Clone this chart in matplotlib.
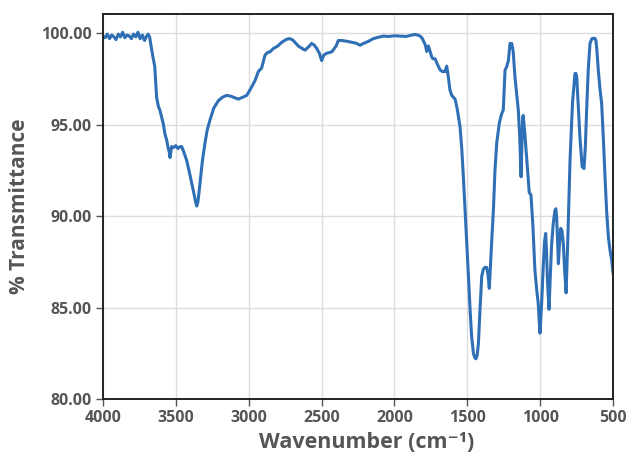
import matplotlib.pyplot as plt

# IR spectrum, values
wavenumber = [
    4000, 3985, 3970, 3955, 3940, 3925, 3910, 3895, 3880, 3865, 3850, 3835,
    3820, 3805, 3790, 3775, 3760, 3745, 3730, 3715, 3700, 3690, 3680,
    3670, 3657, 3645, 3632, 3620, 3610, 3597, 3585, 3575, 3563, 3552, 3545,
    3540, 3533, 3529, 3515, 3500, 3485, 3470, 3460, 3445, 3426, 3410, 3391,
    3375, 3365, 3357, 3348, 3334, 3318, 3300, 3285, 3266, 3240, 3209, 3180,
    3151, 3120, 3090, 3071, 3040, 3014, 2991, 2957, 2934, 2911, 2888, 2870,
    2854, 2831, 2800, 2774, 2750, 2728, 2710, 2694, 2660, 2630, 2614, 2590,
    2568, 2550, 2533, 2515, 2499, 2485, 2465, 2430, 2400, 2385, 2360, 2328,
    2290, 2259, 2236, 2213, 2180, 2145, 2110, 2076, 2040, 2000, 1962, 1920,
    1890, 1859, 1840, 1824, 1812, 1802, 1790, 1778, 1767, 1755, 1744, 1735,
    1721, 1705, 1687, 1670, 1653, 1641, 1630, 1619, 1607, 1595, 1584, 1570,
    1550, 1538, 1527, 1515, 1504, 1492, 1481, 1470, 1458, 1448, 1440, 1432,
    1424, 1412, 1401, 1390, 1378, 1367, 1358, 1349, 1340, 1330, 1321, 1310,
    1298, 1280, 1264, 1253, 1241, 1230, 1218, 1207, 1195, 1185, 1173, 1160,
    1150, 1140, 1131, 1125, 1120, 1116, 1105, 1093, 1075, 1063, 1050, 1036,
    1024, 1013, 1006, 1001, 990, 978, 970, 962, 956, 951, 945, 939, 930, 921,
    910, 898, 892, 887, 881, 875, 867, 859, 850, 841, 832, 822, 810, 795,
    778, 761, 755, 749, 738, 727, 712, 699, 690, 681, 670, 658, 645, 635,
    625, 617, 610, 601, 590, 578, 566, 555, 544, 532, 520, 509, 500,
]
transmittance = [
    99.85, 99.75, 99.95, 99.70, 99.90, 99.80, 99.65, 99.95, 99.80, 100.05,
    99.75, 99.90, 99.85, 99.70, 99.95, 99.80, 100.05, 99.70, 99.90, 99.60,
    99.85, 99.95, 99.80,
    99.30, 98.70, 98.20, 96.50, 96.00, 95.80, 95.40, 95.00, 94.50, 94.15,
    93.70, 93.50, 93.20, 93.60, 93.80, 93.75, 93.85, 93.70, 93.80, 93.80,
    93.50, 93.05, 92.50, 91.80, 91.20, 90.80, 90.55, 90.80, 91.80, 93.00,
    94.00, 94.70, 95.25, 95.90, 96.30, 96.50, 96.60, 96.55, 96.45, 96.40,
    96.50, 96.60, 96.90, 97.40, 97.90, 98.10, 98.80, 98.95, 98.98, 99.16,
    99.30, 99.50, 99.62, 99.70, 99.68, 99.60, 99.30, 99.15, 99.07, 99.25,
    99.44, 99.35, 99.16, 98.90, 98.50, 98.80, 98.90, 98.98, 99.30, 99.60,
    99.60, 99.56, 99.50, 99.44, 99.34, 99.44, 99.55, 99.70, 99.78, 99.84,
    99.82, 99.86, 99.84, 99.82, 99.88, 99.93, 99.90, 99.84, 99.75, 99.60,
    99.40, 99.00, 99.30, 99.00, 98.70, 98.60, 98.60, 98.30, 98.00, 97.90,
    97.90, 98.20, 97.60, 96.90, 96.60, 96.50, 96.40, 95.90, 94.90, 93.70,
    92.15, 90.30, 88.50, 86.70, 84.90, 83.40, 82.50, 82.25, 82.20, 82.40,
    83.00, 85.00, 86.70, 87.10, 87.20, 87.20, 86.80, 86.05, 87.50, 89.00,
    90.30, 92.50, 94.00, 95.10, 95.60, 95.80, 97.98, 98.16, 98.50, 99.44,
    99.44, 99.00, 97.60, 96.60, 95.80, 94.30, 92.15, 94.00, 95.40, 95.50,
    94.50, 93.20, 91.30, 91.15, 89.50, 87.05, 86.00, 85.20, 84.20, 83.60,
    85.20, 87.40, 88.60, 89.05, 88.00, 86.70, 85.70, 84.90, 86.80, 88.50,
    89.60, 90.33, 90.40, 89.96, 88.80, 87.40, 88.50, 89.33, 89.20, 88.50,
    87.00, 85.80, 88.80, 93.06, 96.20, 97.80, 97.80, 97.60, 96.00, 94.30,
    92.70, 92.60, 93.80, 95.80, 98.00, 99.44, 99.70, 99.72, 99.72, 99.60,
    99.00, 97.98, 97.00, 96.16, 94.20, 92.15, 90.30, 88.87, 88.10, 87.60,
    86.90,
]

x_ticks = [4000, 3500, 3000, 2500, 2000, 1500, 1000, 500]
y_ticks = [80, 85, 90, 95, 100]

plt.rcParams['font.family'] = ['Open Sans', 'DejaVu Sans']

fig = plt.figure(figsize=(6.31, 4.57), dpi=100)
ax = fig.add_axes([0.1632, 0.1269, 0.8083, 0.8425])

ax.plot(wavenumber, transmittance, color='#2f6fb6', linewidth=2.2)

ax.set_xlim(4000, 500)
ax.set_ylim(80, 101.05)
ax.set_xticks(x_ticks)
ax.set_yticks(y_ticks)
ax.set_yticklabels([f'{v:.2f}' for v in y_ticks])
ax.grid(True, color='#dddddd', linewidth=1.0)
ax.set_axisbelow(True)

for s in ax.spines.values():
    s.set_color('#222222')
    s.set_linewidth(1.4)

ax.tick_params(axis='both', colors='#555555', labelsize=11.5, length=5,
               width=1.0, pad=3)
for lab in ax.get_xticklabels() + ax.get_yticklabels():
    lab.set_fontweight('bold')
    lab.set_color('#555555')

ax.set_xlabel('Wavenumber (cm\u207b\u00b9)', fontsize=15.5,
              fontweight='bold', color='#555555')
ax.xaxis.set_label_coords(0.516, -0.085)
ax.set_ylabel('% Transmittance', fontsize=15, fontweight='bold',
              color='#555555', labelpad=8)

fig.savefig('out.png', dpi=100)
